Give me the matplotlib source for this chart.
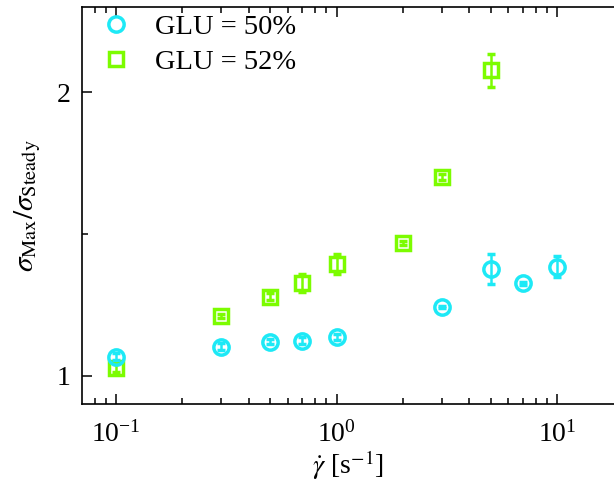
import matplotlib
matplotlib.use('Agg')
import matplotlib.pyplot as plt
from matplotlib.lines import Line2D
from matplotlib.ticker import FixedLocator, LogLocator, NullFormatter

plt.rcParams['font.family'] = ['Liberation Serif', 'DejaVu Serif']
plt.rcParams['mathtext.fontset'] = 'stix'

# --- data ---
rate_50 = [0.1, 0.3, 0.5, 0.7, 1.0, 3.0, 5.0, 7.0, 10.0]
ratio_50 = [1.068, 1.103, 1.121, 1.124, 1.138, 1.244, 1.376, 1.326, 1.385]
err_50 = [0.012, 0.012, 0.010, 0.012, 0.010, 0.004, 0.052, 0.004, 0.037]

rate_52 = [0.1, 0.3, 0.5, 0.7, 1.0, 2.0, 3.0, 5.0]
ratio_52 = [1.027, 1.211, 1.279, 1.326, 1.394, 1.469, 1.700, 2.077]
err_52 = [0.014, 0.008, 0.012, 0.032, 0.034, 0.006, 0.010, 0.059]

labels = ['GLU = 50%', 'GLU = 52%']

CYAN = '#1DE9F6'
GREEN = '#7CFC00'

fig = plt.figure(figsize=(6.14, 4.90), dpi=100)
ax = fig.add_axes([0.1336, 0.1755, 0.8664, 0.8102])

ax.errorbar(rate_50, ratio_50, yerr=err_50, fmt='o', color=CYAN,
            mfc='none', mec=CYAN, ms=11, mew=2.5, elinewidth=1.8,
            capsize=3, capthick=1.8, zorder=3)
ax.errorbar(rate_52, ratio_52, yerr=err_52, fmt='s', color=GREEN,
            mfc='none', mec=GREEN, ms=10, mew=2.5, elinewidth=1.8,
            capsize=3, capthick=1.8, zorder=2)

ax.set_xscale('log')
ax.set_xlim(0.0702, 18.1)
ax.set_ylim(0.901, 2.30)

ax.yaxis.set_major_locator(FixedLocator([1, 2]))
ax.yaxis.set_minor_locator(FixedLocator([1.5]))
ax.set_yticklabels(['1', '2'])
ax.xaxis.set_minor_locator(LogLocator(base=10, subs=range(2, 10)))
ax.xaxis.set_minor_formatter(NullFormatter())

ax.tick_params(which='both', direction='in', top=True, right=False,
               labelsize=20, width=1.1)
ax.tick_params(axis='x', pad=12)
ax.tick_params(axis='y', pad=8)
ax.tick_params(which='major', length=7)
ax.tick_params(which='minor', length=4)
for sp in ax.spines.values():
    sp.set_linewidth(1.2)
ax.spines['right'].set_visible(False)

ax.set_xlabel(r'$\dot{\gamma}$ [s$^{-1}$]', fontsize=20, labelpad=1)
ax.set_ylabel(r'$\sigma_{\mathrm{Max}}/\sigma_{\mathrm{Steady}}$', fontsize=21, labelpad=10)

handles = [
    Line2D([], [], ls='none', marker='o', mfc='none', mec=CYAN, ms=11, mew=2.5),
    Line2D([], [], ls='none', marker='s', mfc='none', mec=GREEN, ms=10, mew=2.5),
]
ax.legend(handles, labels, loc='upper left', frameon=False, fontsize=20.5,
          handletextpad=0.55, borderaxespad=0.0, labelspacing=0.3,
          handlelength=1.6, bbox_to_anchor=(0.0, 1.01))

fig.savefig('out.png', dpi=100)
